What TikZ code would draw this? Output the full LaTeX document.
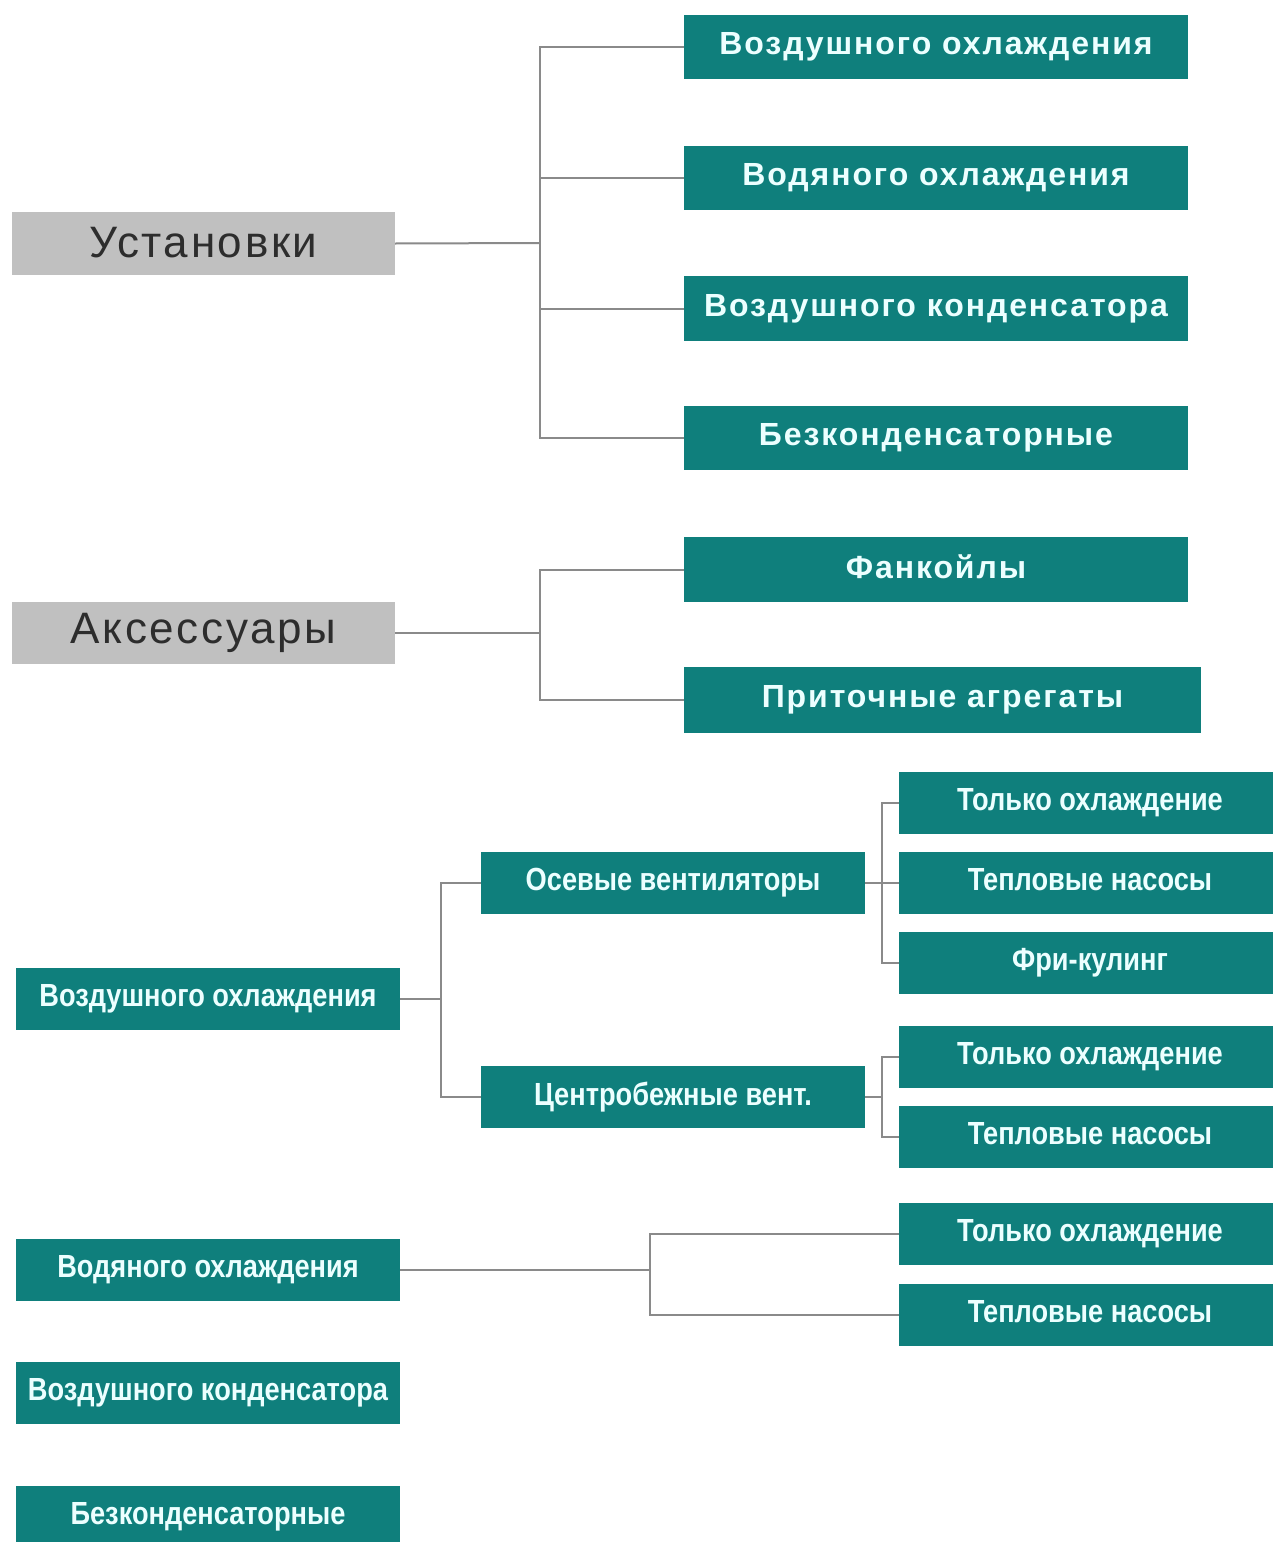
\documentclass[tikz,border=0pt]{standalone}
\usepackage{fontspec}
\setmainfont{Liberation Sans}
\newfontfamily\topfont{Liberation Sans}[LetterSpace=6]
\newfontfamily\lowfont{Liberation Sans}[FakeStretch=0.85]
\newfontfamily\grayfont{Liberation Sans}[LetterSpace=6]
\definecolor{teal0}{RGB}{15,127,124}
\definecolor{tealtext}{RGB}{236,255,255}
\definecolor{gray0}{RGB}{192,192,192}
\definecolor{graytext}{RGB}{45,45,45}
\definecolor{linegray}{RGB}{138,138,138}
\tikzset{
  boxbase/.style={anchor=north west, inner sep=0pt, outer sep=0pt},
  topbox/.style={boxbase, fill=teal0, text=tealtext, font=\topfont\bfseries\fontsize{32}{36}\selectfont},
  lowbox/.style={boxbase, fill=teal0, text=tealtext, font=\lowfont\bfseries\fontsize{32}{36}\selectfont},
  graybox/.style={boxbase, fill=gray0, text=graytext, font=\grayfont\fontsize{44}{48}\selectfont},
  conn/.style={draw=linegray, line width=2pt}
}
\begin{document}
\begin{tikzpicture}[x=1pt,y=-1pt]
\useasboundingbox[fill=white] (0,0) rectangle (1272,1542);
% top group
\node[graybox, minimum width=383pt, minimum height=63pt] (u) at (12,212) {\raisebox{3pt}{Установки}};
\node[topbox, minimum width=504pt, minimum height=64pt] (a1) at (684,15) {\raisebox{6pt}{Воздушного охлаждения}};
\node[topbox, minimum width=504pt, minimum height=64pt] (a2) at (684,146) {\raisebox{6pt}{Водяного охлаждения}};
\node[topbox, minimum width=504pt, minimum height=65pt] (a3) at (684,276) {\raisebox{6pt}{Воздушного конденсатора}};
\node[topbox, minimum width=504pt, minimum height=64pt] (a4) at (684,406) {\raisebox{6pt}{Безконденсаторные}};
\coordinate (j1) at (540,243);
\draw[conn] (u.east) -- (j1);
\draw[conn] (a1.west) -| (j1);
\draw[conn] (a2.west) -| (j1);
\draw[conn] (a3.west) -| (j1);
\draw[conn] (a4.west) -| (j1);
% accessories
\node[graybox, minimum width=383pt, minimum height=62pt] (acc) at (12,602) {\raisebox{3pt}{Аксессуары}};
\node[topbox, minimum width=504pt, minimum height=65pt] (b1) at (684,537) {\raisebox{6pt}{Фанкойлы}};
\node[topbox, minimum width=517pt, minimum height=66pt] (b2) at (684,667) {\raisebox{6pt}{Приточные агрегаты}};
\coordinate (j2) at (540,633);
\draw[conn] (acc.east) -- (j2);
\draw[conn] (b1.west) -| (j2);
\draw[conn] (b2.west) -| (j2);
% air cooled
\node[lowbox, minimum width=384pt, minimum height=62pt] (c0) at (16,968) {\raisebox{7pt}{Воздушного охлаждения}};
\node[lowbox, minimum width=384pt, minimum height=62pt] (c1) at (481,852) {\raisebox{7pt}{Осевые вентиляторы}};
\node[lowbox, minimum width=384pt, minimum height=62pt] (c2) at (481,1066) {\raisebox{7pt}{Центробежные вент.}};
\node[lowbox, minimum width=382pt, minimum height=62pt] (d1) at (899,772) {\raisebox{7pt}{Только охлаждение}};
\node[lowbox, minimum width=382pt, minimum height=62pt] (d2) at (899,852) {\raisebox{7pt}{Тепловые насосы}};
\node[lowbox, minimum width=382pt, minimum height=62pt] (d3) at (899,932) {\raisebox{7pt}{Фри-кулинг}};
\node[lowbox, minimum width=382pt, minimum height=62pt] (d4) at (899,1026) {\raisebox{7pt}{Только охлаждение}};
\node[lowbox, minimum width=382pt, minimum height=62pt] (d5) at (899,1106) {\raisebox{7pt}{Тепловые насосы}};
\coordinate (j3) at (441,999);
\coordinate (j4) at (882,883);
\coordinate (j5) at (882,1097);
\draw[conn] (c0.east) -- (j3);
\draw[conn] (c1.west) -| (j3);
\draw[conn] (c2.west) -| (j3);
\draw[conn] (c1.east) -- (d2.west);
\draw[conn] (d1.west) -| (j4);
\draw[conn] (d3.west) -| (j4);
\draw[conn] (c2.east) -- (j5);
\draw[conn] (d4.west) -| (j5);
\draw[conn] (d5.west) -| (j5);
% water cooled
\node[lowbox, minimum width=384pt, minimum height=62pt] (w0) at (16,1239) {\raisebox{7pt}{Водяного охлаждения}};
\node[lowbox, minimum width=382pt, minimum height=62pt] (e1) at (899,1203) {\raisebox{7pt}{Только охлаждение}};
\node[lowbox, minimum width=382pt, minimum height=62pt] (e2) at (899,1284) {\raisebox{7pt}{Тепловые насосы}};
\coordinate (j6) at (650,1270);
\draw[conn] (w0.east) -- (j6);
\draw[conn] (e1.west) -| (j6);
\draw[conn] (e2.west) -| (j6);
% others
\node[lowbox, minimum width=384pt, minimum height=62pt] (w1) at (16,1362) {\raisebox{7pt}{Воздушного конденсатора}};
\node[lowbox, minimum width=384pt, minimum height=62pt] (w2) at (16,1486) {\raisebox{7pt}{Безконденсаторные}};
\end{tikzpicture}
\end{document}
